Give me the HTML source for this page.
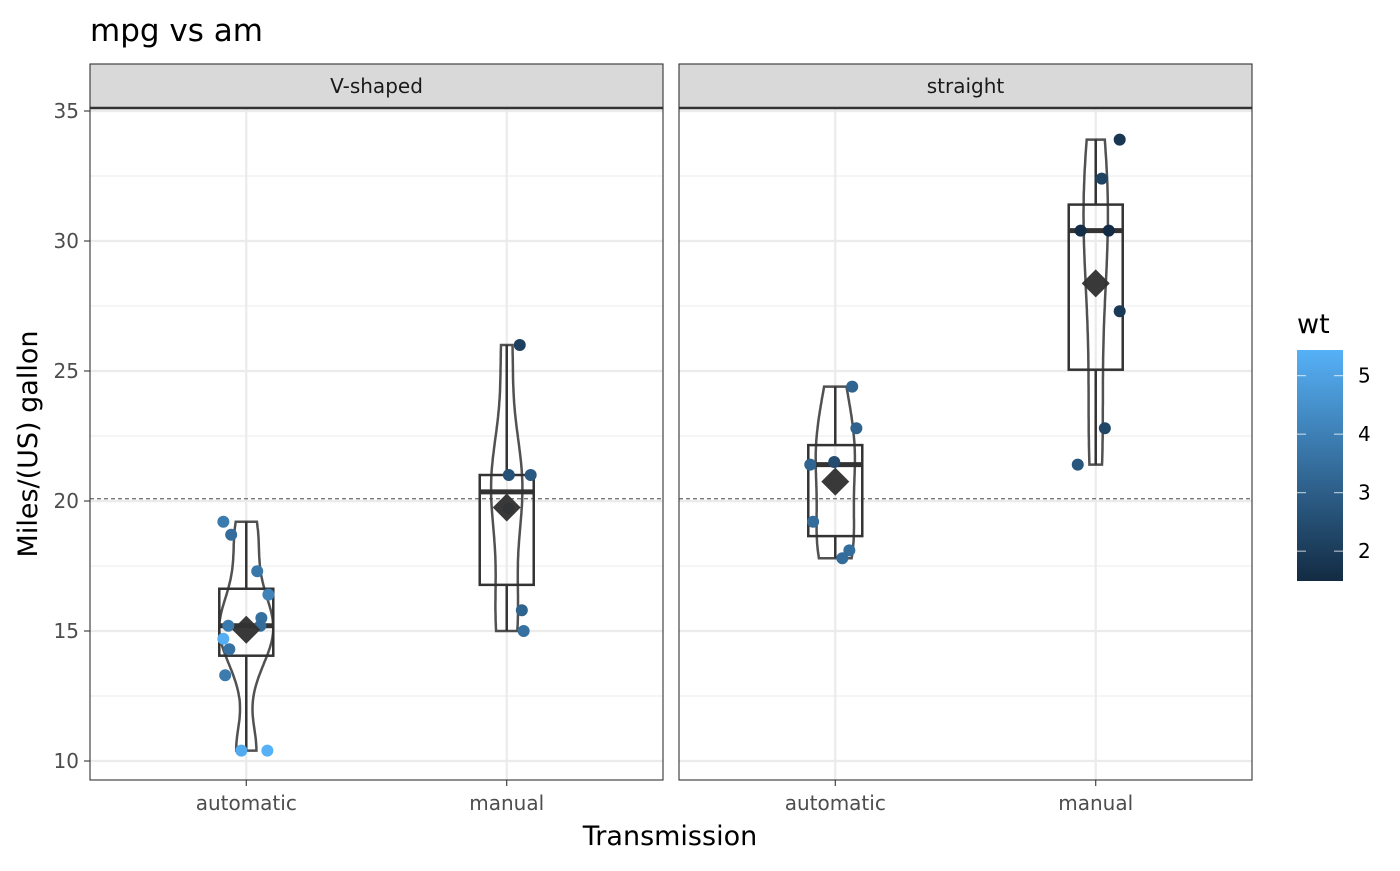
<!DOCTYPE html>
<html><head><meta charset="utf-8"><style>
body{margin:0;background:#fff;}
svg text{font-family:"DejaVu Sans","Liberation Sans",sans-serif;}
</style></head><body>
<svg id="c" width="1400" height="866" xmlns="http://www.w3.org/2000/svg"></svg>
<script>
const panels=["V-shaped","straight"];
const categories=["automatic","manual"];
const mpgVA=[19.2,18.7,17.3,16.4,15.5,15.2,15.2,14.7,14.3,13.3,10.4,10.4];
const wtVA=[3.845,3.44,3.73,4.07,3.52,3.435,3.78,5.345,3.57,3.84,5.25,5.424];
const jitVA=[-0.088,-0.058,0.042,0.085,0.058,0.054,-0.069,-0.088,-0.065,-0.081,-0.019,0.081];
const mpgVM=[21,21,26,15.8,19.7,15];
const wtVM=[2.62,2.875,2.14,3.17,2.77,3.57];
const jitVM=[0.008,0.092,0.05,0.058,0.008,0.065];
const mpgSA=[21.4,18.1,24.4,22.8,19.2,17.8,21.5];
const wtSA=[3.215,3.46,3.19,3.15,3.44,3.44,2.465];
const jitSA=[-0.096,0.054,0.065,0.081,-0.085,0.027,-0.004];
const mpgSM=[22.8,32.4,30.4,33.9,27.3,30.4,21.4];
const wtSM=[2.32,2.2,1.615,1.835,1.935,1.513,2.78];
const jitSM=[0.035,0.023,-0.058,0.092,0.092,0.05,-0.069];
const yTicks=[10,15,20,25,30,35];
const cbTicks=[2,3,4,5];
const grandMean=20.09;

const svg=document.getElementById('c');
const NS="http://www.w3.org/2000/svg";
function el(t,a,p){const e=document.createElementNS(NS,t);for(const k in a)e.setAttribute(k,a[k]);(p||svg).appendChild(e);return e;}
const y=v=>761-(v-10)*26;
const pX=[90,679],pW=573;
const xc=(p,ci)=>pX[p]+(ci+0.6)/2.2*pW;
const ux=pW/2.2;
const wtCol=w=>{let t=(w-1.513)/(5.424-1.513);t=Math.max(0,Math.min(1,t));
 const a=[19,43,67],b=[86,177,247];return `rgb(${a.map((v,i)=>Math.round(v+(b[i]-v)*t)).join(',')})`;};
const groups=[[[mpgVA,wtVA,jitVA],[mpgVM,wtVM,jitVM]],[[mpgSA,wtSA,jitSA],[mpgSM,wtSM,jitSM]]];

function quant(a,q){const s=[...a].sort((m,n)=>m-n);const h=(s.length-1)*q,l=Math.floor(h);return s[l]+(h-l)*((s[Math.min(l+1,s.length-1)])-s[l]);}
function bw(a){const n=a.length,m=a.reduce((s,v)=>s+v,0)/n;const sd=Math.sqrt(a.reduce((s,v)=>s+(v-m)**2,0)/(n-1));const iqr=quant(a,0.75)-quant(a,0.25);return 0.9*Math.min(sd,iqr/1.34)*Math.pow(n,-0.2);}
function dens(a){const h=bw(a),mn=Math.min(...a),mx=Math.max(...a),out=[];for(let i=0;i<=80;i++){const v=mn+(mx-mn)*i/80;let d=0;a.forEach(u=>d+=Math.exp(-0.5*((v-u)/h)**2));out.push([v,d/(a.length*h*Math.sqrt(2*Math.PI))]);}return out;}
const allD=groups.flat().map(g=>dens(g[0]));
const gMax=Math.max(...allD.flat().map(d=>d[1]));

el('text',{x:90,y:41,'font-size':31,fill:'#000',}).textContent="mpg vs am";

panels.forEach((pn,p)=>{
 const g=el('g',{});
 el('rect',{x:pX[p],y:108,width:pW,height:672,fill:'#fff'},g);
 [12.5,17.5,22.5,27.5,32.5].forEach(v=>el('line',{x1:pX[p],x2:pX[p]+pW,y1:y(v),y2:y(v),stroke:'#EBEBEB','stroke-width':1.1},g));
 yTicks.forEach(v=>el('line',{x1:pX[p],x2:pX[p]+pW,y1:y(v),y2:y(v),stroke:'#EBEBEB','stroke-width':2.2},g));
 categories.forEach((c,ci)=>el('line',{x1:xc(p,ci),x2:xc(p,ci),y1:108,y2:780,stroke:'#EBEBEB','stroke-width':2.2},g));
 el('line',{x1:pX[p],x2:pX[p]+pW,y1:y(grandMean),y2:y(grandMean),stroke:'#777','stroke-width':1.4,'stroke-dasharray':'4,3',},g);
 groups[p].forEach((grp,ci)=>{
  const [m,w,j]=grp,cx=xc(p,ci),cn=categories[ci];
  const q1=quant(m,0.25),md=quant(m,0.5),q3=quant(m,0.75),iq=q3-q1;
  const lo=Math.min(...m.filter(v=>v>=q1-1.5*iq)),hi=Math.max(...m.filter(v=>v<=q3+1.5*iq));
  const bg=el('g',{},g);
  el('line',{x1:cx,x2:cx,y1:y(hi),y2:y(q3),stroke:'#333','stroke-width':2.5},bg);
  el('line',{x1:cx,x2:cx,y1:y(lo),y2:y(q1),stroke:'#333','stroke-width':2.5},bg);
  el('rect',{x:cx-27,y:y(q3),width:54,height:y(q1)-y(q3),fill:'none',stroke:'#333','stroke-width':2.5},bg);
  el('line',{x1:cx-27,x2:cx+27,y1:y(md),y2:y(md),stroke:'#333','stroke-width':5},bg);
  const d=dens(m);const R=d.map(q=>[cx+q[1]/gMax*27,y(q[0])]);const L=d.map(q=>[cx-q[1]/gMax*27,y(q[0])]).reverse();
  const pts=R.concat(L);
  el('path',{d:'M'+pts.map(q=>q[0].toFixed(1)+','+q[1].toFixed(1)).join('L')+'Z',fill:'none',stroke:'#333','stroke-opacity':0.85,'stroke-width':2.5,},g);
  m.forEach((v,i)=>{const pt=el('circle',{cx:cx+j[i]*ux,cy:y(v),r:6,fill:wtCol(w[i])},g);
   
   });
  const mean=m.reduce((s,v)=>s+v,0)/m.length,my=y(mean);
  el('path',{d:`M${cx},${my-14}L${cx+14},${my}L${cx},${my+14}L${cx-14},${my}Z`,fill:'#333','fill-opacity':0.97,},g);
 });
 el('rect',{x:pX[p],y:108,width:pW,height:672,fill:'none',stroke:'#333','stroke-width':1.1,},g);
 el('rect',{x:pX[p],y:64,width:pW,height:44,fill:'#D9D9D9',stroke:'#333','stroke-width':1.1,},g);
 el('line',{x1:pX[p],x2:pX[p]+pW,y1:108,y2:108,stroke:'#333','stroke-width':2.5},g);
 el('text',{x:pX[p]+pW/2,y:93,'font-size':20,fill:'#1A1A1A','text-anchor':'middle',},g).textContent=pn;
 categories.forEach((c,ci)=>{
  el('line',{x1:xc(p,ci),x2:xc(p,ci),y1:780,y2:786,stroke:'#333','stroke-width':1.1},g);
  el('text',{x:xc(p,ci),y:810,'font-size':20,fill:'#4D4D4D','text-anchor':'middle',},g).textContent=c;
 });
});
yTicks.forEach(v=>{
 el('line',{x1:84,x2:90,y1:y(v),y2:y(v),stroke:'#333','stroke-width':1.1});
 el('text',{x:79,y:y(v)+7,'font-size':20,fill:'#4D4D4D','text-anchor':'end',}).textContent=v;
});
el('text',{x:670,y:845,'font-size':27,fill:'#000','text-anchor':'middle',}).textContent="Transmission";
el('text',{x:0,y:0,transform:'translate(37,444) rotate(-90)','font-size':27,fill:'#000','text-anchor':'middle',}).textContent="Miles/(US) gallon";
const cby=w=>581-(w-1.49)*58.5;
const defs=el('defs',{});const lg=el('linearGradient',{id:'gr',x1:0,y1:1,x2:0,y2:0},defs);
el('stop',{offset:0,'stop-color':wtCol(1.49)},lg);el('stop',{offset:1,'stop-color':wtCol(5.44)},lg);
const leg=el('g',{});
el('text',{x:1297,y:333,'font-size':27,fill:'#000',},leg).textContent="wt";
el('rect',{x:1297,y:350,width:46,height:231,fill:'url(#gr)',},leg);
cbTicks.forEach(v=>{
 el('line',{x1:1297,x2:1306,y1:cby(v),y2:cby(v),stroke:'#fff','stroke-opacity':0.7,'stroke-width':1.1},leg);
 el('line',{x1:1334,x2:1343,y1:cby(v),y2:cby(v),stroke:'#fff','stroke-opacity':0.7,'stroke-width':1.1},leg);
 el('text',{x:1358,y:cby(v)+7,'font-size':20,fill:'#000',},leg).textContent=v;
});
</script>
</body></html>
